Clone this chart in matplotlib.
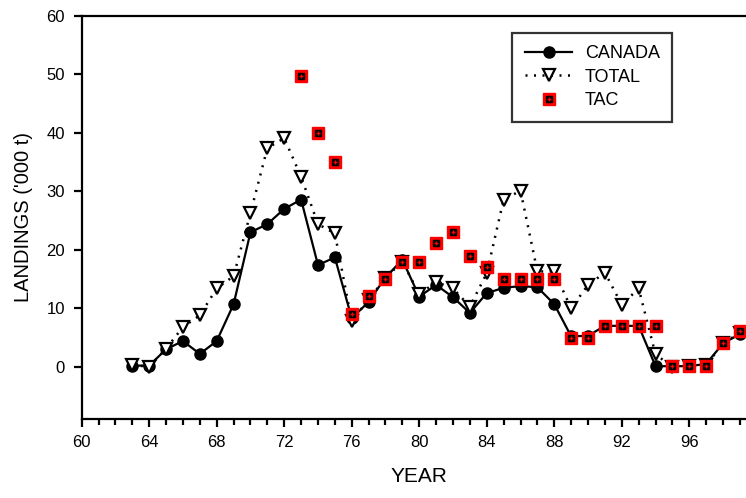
import matplotlib
matplotlib.use("Agg")
import matplotlib.pyplot as plt
from matplotlib.ticker import MultipleLocator
from matplotlib.legend_handler import HandlerTuple

plt.rcParams['font.family'] = ['Liberation Sans', 'DejaVu Sans']

years = list(range(63, 100))
canada = [0.2, 0.2, 3.0, 4.4, 2.2, 4.4, 10.7, 23.0, 24.4, 27.0,
          28.6, 17.4, 18.7, 8.3, 11.1, 15.3, 18.3, 12.0, 14.0, 11.9,
          9.2, 12.6, 13.5, 13.8, 13.6, 10.7, 5.2, 5.3, 7.0, 7.0,
          7.0, 0.1, 0.1, 0.1, 0.5, 4.0, 5.6]
total = [0.3, 0.0, 3.1, 6.8, 8.8, 13.4, 15.5, 26.3, 37.4, 39.1,
         32.5, 24.4, 22.8, 7.8, 11.5, 15.2, 18.0, 12.4, 14.5, 13.4,
         10.3, 16.0, 28.6, 30.1, 16.3, 16.3, 10.0, 14.0, 16.1, 10.6,
         13.4, 2.1, 0.0, 0.1, 0.3, 4.0, 5.8]
tac_years = list(range(73, 100))
tac = [49.8, 39.9, 35.1, 9.0, 12.1, 15.0, 17.9, 17.9, 21.1, 23.1,
       19.0, 17.0, 15.0, 15.0, 15.0, 15.0, 5.0, 5.0, 7.0, 7.0,
       7.0, 7.0, 0.1, 0.1, 0.1, 4.0, 6.2]

fig = plt.figure(figsize=(7.46, 4.98), dpi=100)
ax = fig.add_axes([0.1095, 0.159, 0.905, 0.809])

l_can, = ax.plot(years, canada, '-', color='black', lw=1.6, marker='o',
                 ms=8, mfc='black', mec='black', zorder=3)
l_tot, = ax.plot(years, total, color='black', lw=1.8, ls=(0, (0.8, 2.6)),
                 marker='v', ms=9, mfc='white', mec='black', mew=1.6,
                 zorder=4)
# TAC squares: red box with a black centre
t_out, = ax.plot(tac_years, tac, 's', ms=9, mfc='red', mec='red',
                 ls='none', zorder=5)
t_in, = ax.plot(tac_years, tac, 's', ms=4.5, mfc='black', mec='black',
                ls='none', zorder=6)
t_dot, = ax.plot(tac_years, tac, '+', ms=3, mec='red', mew=1.0,
                 ls='none', zorder=7)

ax.set_xlim(60, 100)
ax.set_ylim(-8.9, 60)
ax.xaxis.set_minor_locator(MultipleLocator(1))
ax.set_xticks(range(60, 100, 4))
ax.set_xticklabels([str(v) for v in range(60, 100, 4)])
ax.set_yticks(range(0, 61, 10))

for side in ('left', 'bottom', 'top'):
    ax.spines[side].set_linewidth(1.6)
ax.spines['right'].set_visible(False)
ax.tick_params(axis='both', which='major', direction='out', length=6,
               width=1.6, labelsize=12, pad=6)
ax.tick_params(axis='x', which='minor', direction='out', length=4,
               width=1.6)
ax.tick_params(top=False, right=False)

ax.set_xlabel('YEAR', fontsize=15, labelpad=12)
ax.set_ylabel("LANDINGS ('000 t)", fontsize=14.5, labelpad=10)

leg = ax.legend([l_can, l_tot, (t_out, t_in, t_dot)],
                ['CANADA', 'TOTAL', 'TAC'],
                handler_map={tuple: HandlerTuple(ndivide=1, pad=0)},
                loc='upper left', bbox_to_anchor=(0.638, 0.958),
                fontsize=13, frameon=True, fancybox=False, edgecolor='black',
                handlelength=2.6, handletextpad=0.7, labelspacing=0.35,
                borderpad=0.7, borderaxespad=0)
leg.get_frame().set_linewidth(1.6)

fig.savefig('out.png', dpi=100)
